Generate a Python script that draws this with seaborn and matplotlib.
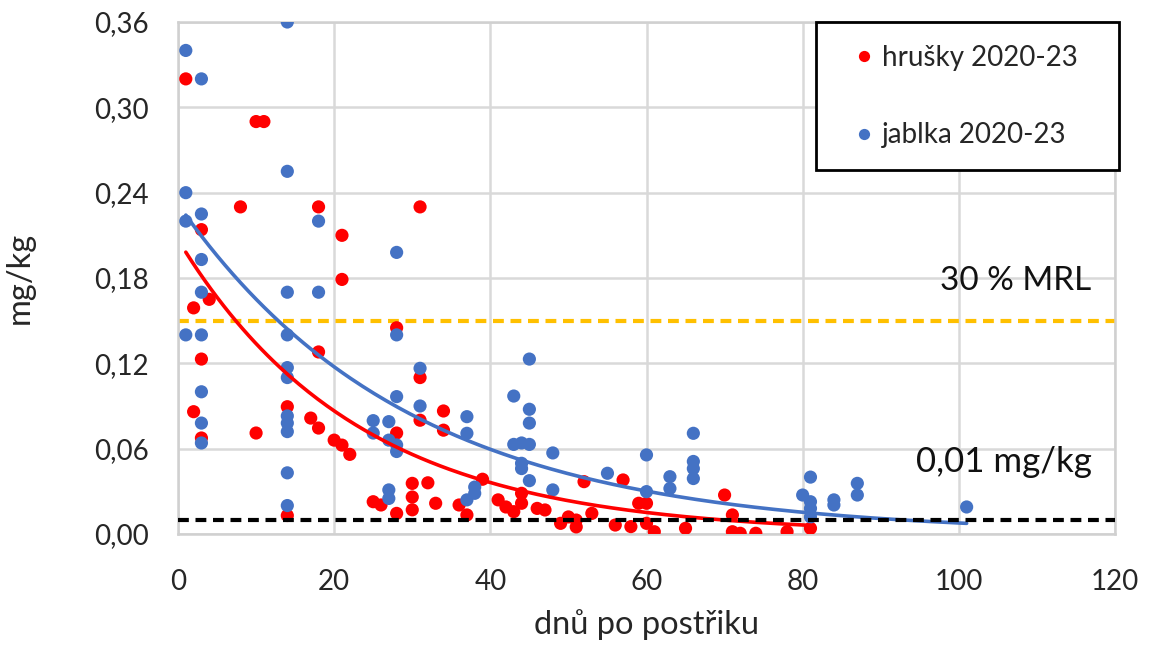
import numpy as np
import pandas as pd
import matplotlib
matplotlib.use('Agg')
import matplotlib.pyplot as plt
from matplotlib.patches import Rectangle
from matplotlib.ticker import FuncFormatter
import seaborn as sns

# hrušky 2020-23 (days after spraying, mg/kg)
pear_days = [1, 10, 11, 8, 18, 3, 21, 21, 4, 2, 18, 3, 2, 14, 3, 17, 18, 10, 20, 21, 22, 14,
             31, 28, 31, 34, 31, 28, 34, 39, 30, 30, 30, 32, 25, 26, 28, 33, 36, 37,
             41, 42, 43, 44, 44, 46, 47, 49, 50, 51, 51, 52, 53, 56, 57, 58, 59, 60, 60, 61,
             65, 70, 71, 71, 72, 74, 78, 81]
pear_res = [0.32, 0.29, 0.29, 0.23, 0.23, 0.214, 0.21, 0.179, 0.165, 0.159, 0.128, 0.123, 0.086,
            0.0895, 0.0675, 0.0815, 0.0745, 0.071, 0.066, 0.0625, 0.056, 0.013,
            0.23, 0.145, 0.11, 0.0865, 0.08, 0.071, 0.073, 0.0385, 0.0356, 0.026, 0.017, 0.036,
            0.0227, 0.0204, 0.0145, 0.0216, 0.0204, 0.0134,
            0.024, 0.019, 0.0157, 0.0286, 0.0216, 0.018, 0.0169, 0.0075, 0.012, 0.005, 0.0098,
            0.0368, 0.0145, 0.0063, 0.038, 0.0052, 0.0216, 0.0216, 0.0075, 0.0016,
            0.004, 0.0274, 0.0134, 0.0016, 0.0005, 0.0005, 0.0016, 0.004]

# jablka 2020-23
apple_days = [14, 1, 3, 14, 1, 1, 3, 18, 3, 3, 14, 18, 1, 3, 14, 14, 14, 3, 14, 14, 14, 3, 3,
              14, 14, 28, 28, 31, 28, 31, 37, 25, 25, 27, 37, 27, 28, 28, 43, 45, 45, 45,
              43, 44, 45, 44, 44, 48, 45, 38, 38, 37, 27, 27, 48, 55, 60, 60, 63, 63,
              66, 66, 66, 66, 80, 81, 81, 81, 81, 84, 84, 87, 87, 101]
apple_res = [0.36, 0.34, 0.32, 0.255, 0.24, 0.22, 0.225, 0.22, 0.193, 0.17, 0.17, 0.17,
             0.14, 0.14, 0.14, 0.117, 0.11, 0.1, 0.083, 0.078, 0.072, 0.078, 0.064,
             0.043, 0.020, 0.198, 0.14, 0.1165, 0.0966, 0.09, 0.0825, 0.0797, 0.071, 0.079,
             0.0708, 0.066, 0.0626, 0.058, 0.097, 0.123, 0.0877, 0.078,
             0.063, 0.064, 0.063, 0.0497, 0.046, 0.057, 0.0375, 0.033, 0.0286, 0.024,
             0.031, 0.025, 0.031, 0.0427, 0.0556, 0.0298, 0.0403, 0.032,
             0.0708, 0.051, 0.046, 0.039, 0.0274, 0.040, 0.0227, 0.018, 0.012,
             0.024, 0.0204, 0.0356, 0.0274, 0.019]

# exponential trendlines y = a * exp(b * x)
pear_trend = (0.207, -0.0436)
apple_trend = (0.232, -0.0340)

mrl_30 = 0.15
loq = 0.01

series = ['hrušky 2020-23', 'jablka 2020-23']
colors = {'hrušky 2020-23': '#FF0000', 'jablka 2020-23': '#4472C4'}

df = pd.DataFrame({
    'days': pear_days + apple_days,
    'res': pear_res + apple_res,
    'series': [series[0]] * len(pear_days) + [series[1]] * len(apple_days),
})

sns.set_style('white')
plt.rcParams['font.family'] = ['Lato', 'DejaVu Sans']
plt.rcParams['text.color'] = '#262626'

W, H = 1150, 645
fig = plt.figure(figsize=(W / 100, H / 100), dpi=100)
ax = fig.add_axes([178 / W, 1 - 534 / H, 937 / W, 512 / H])

sns.scatterplot(data=df, x='days', y='res', hue='series', palette=colors, s=90,
                edgecolor='none', ax=ax, zorder=3)

# trendlines
for name, days, (a, b) in [(series[1], apple_days, apple_trend), (series[0], pear_days, pear_trend)]:
    xs = np.linspace(min(days), max(days), 200)
    ax.plot(xs, a * np.exp(b * xs), color=colors[name], lw=2.6, zorder=4)

ax.axhline(mrl_30, color='#FFC000', ls=(0, (2.6, 1.6)), lw=3, zorder=2)
ax.axhline(loq, color='black', ls=(0, (2.6, 1.6)), lw=3, zorder=5)

ax.text(117, 0.178, '30 % MRL', ha='right', va='center', fontsize=24, color='#111111')
ax.text(117.1, 0.0506, '0,01 mg/kg', ha='right', va='center', fontsize=25, color='#111111')

ax.set_xlim(0, 120)
ax.set_ylim(0, 0.36)
ax.set_xticks(range(0, 121, 20))
ax.set_yticks(np.arange(0, 0.361, 0.06))
ax.yaxis.set_major_formatter(FuncFormatter(lambda v, p: f'{v:.2f}'.replace('.', ',')))
ax.grid(True, color='#D9D9D9', lw=1.8)
ax.set_axisbelow(True)
for sp in ax.spines.values():
    sp.set_color('#D0D0D0')
    sp.set_linewidth(1.8)
ax.tick_params(axis='both', length=0, labelsize=20, labelcolor='#262626')
ax.tick_params(axis='x', pad=25)
ax.tick_params(axis='y', pad=21)
ax.set_xlabel('dnů po postřiku', fontsize=23.5, labelpad=10)
ax.set_ylabel('mg/kg', fontsize=23.5, labelpad=43)

# legend: box drawn separately, entries placed inside it
ax.add_patch(Rectangle((816 / W, 1 - 170 / H), 303 / W, 148 / H, transform=fig.transFigure,
                       facecolor='white', edgecolor='black', lw=2, clip_on=False, zorder=9))
handles, labels = ax.get_legend_handles_labels()
leg = ax.legend(handles, labels, loc='upper left', bbox_to_anchor=(850 / W, 1 - 45 / H),
                bbox_transform=fig.transFigure, fontsize=20, frameon=False,
                borderpad=0, labelspacing=1.85, handletextpad=0.15, handlelength=1.0,
                borderaxespad=0, markerscale=0.85)
leg.set_zorder(10)

fig.savefig('out.png', dpi=100)
